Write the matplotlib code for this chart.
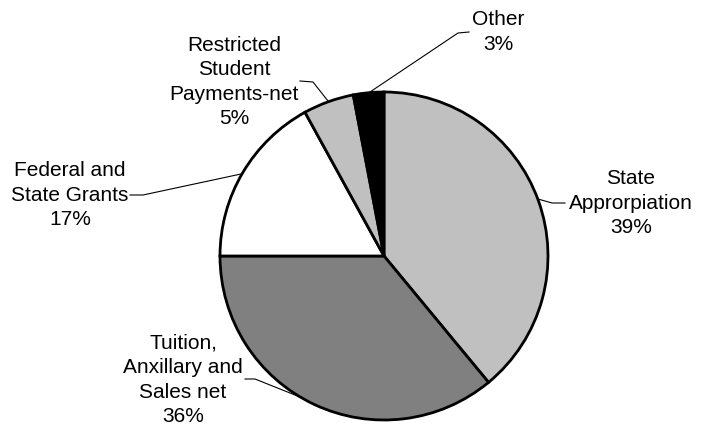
import matplotlib
matplotlib.use("Agg")
import matplotlib.pyplot as plt

categories = ["State\nApprorpiation", "Tuition,\nAnxillary and\nSales net",
              "Federal and\nState Grants", "Restricted\nStudent\nPayments-net", "Other"]
values = [39, 36, 17, 5, 3]
colors = ["#c0c0c0", "#808080", "#ffffff", "#c0c0c0", "#000000"]

W, H = 708, 428
fig = plt.figure(figsize=(W / 100, H / 100), dpi=100)
ax = fig.add_axes([0, 0, 1, 1])
ax.set_xlim(0, W)
ax.set_ylim(0, H)
ax.set_aspect("equal")
ax.axis("off")

cx, cy, r = 384, H - 256, 164
ax.pie(values, center=(cx, cy), radius=r, startangle=90, counterclock=False,
       colors=colors, wedgeprops=dict(edgecolor="black", linewidth=2))
ax.set_xlim(0, W)
ax.set_ylim(0, H)

# label text centres (pixel coords from top) and leader polylines
labels = [f"{c}\n{v}%" for c, v in zip(categories, values)]
text_pos = [(631, 203), (183, 380), (70, 195), (234, 82), (498, 32)]
leaders = [
    [(565, 203), (552, 203), (538, 199)],
    [(245, 379), (255, 379), (300, 397)],
    [(130, 195), (143, 195), (241, 174)],
    [(300, 81), (313, 82), (328, 101)],
    [(469, 32), (458, 33), (370, 92)],
]
for lab, (tx, ty), pts in zip(labels, text_pos, leaders):
    ax.text(tx, H - ty, lab, ha="center", va="center", fontsize=15,
            family="Liberation Sans", linespacing=1.37)
    xs = [p[0] for p in pts]
    ys = [H - p[1] for p in pts]
    ax.plot(xs, ys, color="black", lw=0.8)

fig.savefig("out.png", dpi=100)
